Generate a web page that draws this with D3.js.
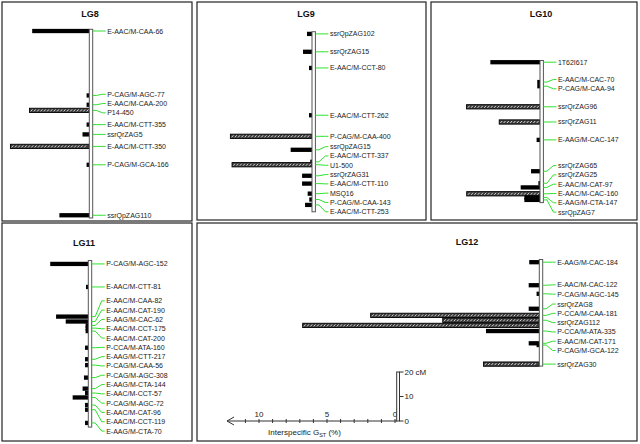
<!DOCTYPE html>
<html>
<head>
<meta charset="utf-8">
<script src="https://cdn.jsdelivr.net/npm/d3@7"></script>
<style>
body { margin: 0; background: #fff; }
svg { display: block; font-family: "Liberation Sans", Arial, sans-serif; }
</style>
</head>
<body>
<div id="chart"></div>
<script>
// linkage groups and their map length (cM)
var groupNames = ["LG8", "LG9", "LG10", "LG11", "LG12"];
var groupLength = [77, 73.5, 58, 68, 43.5];

// LG8 : marker, position (cM), interspecific Gst (%), hatched bar
var lg8Markers = ["E-AAC/M-CAA-66", "P-CAG/M-AGC-77", "E-AAC/M-CAA-200", "P14-450", "E-AAC/M-CTT-355",
    "ssrQrZAG5", "E-AAC/M-CTT-350", "P-CAG/M-GCA-166", "ssrQpZAG110"];
var lg8Pos = [0.7, 27.0, 30.8, 33.1, 38.9, 42.9, 47.8, 55.3, 75.9];
var lg8Gst = [4.2, 0.2, 0.2, 4.4, 0.2, 0.5, 5.8, 0.2, 2.2];
var lg8Hatched = [0, 0, 0, 1, 0, 0, 1, 0, 0];

// LG9
var lg9Markers = ["ssrQpZAG102", "ssrQrZAG15", "E-AAC/M-CCT-80", "E-AAC/M-CTT-262", "P-CAG/M-CAA-400",
    "ssrQpZAG15", "E-AAC/M-CTT-337", "U1-500", "ssrQrZAG31", "E-AAC/M-CTT-110", "MSQ16",
    "P-CAG/M-CAA-143", "E-AAC/M-CTT-253"];
var lg9Pos = [0.9, 8.2, 14.8, 34.1, 42.7, 48.2, 53.1, 54.3, 58.8, 62.0, 66.1, 68.5, 70.7];
var lg9Gst = [0.37, 0.66, 0.22, 0.22, 6.0, 1.57, 0.13, 5.88, 0.73, 0.73, 0.32, 0.2, 0.51];
var lg9Hatched = [0, 0, 0, 0, 1, 0, 0, 1, 0, 0, 0, 0, 0];

// LG10
var lg10Markers = ["1T62I617", "E-AAC/M-CAC-70", "P-CAG/M-CAA-94", "ssrQrZAG96", "ssrQrZAG11",
    "E-AAG/M-CAC-147", "ssrQrZAG65", "ssrQrZAG25", "E-AAC/M-CAT-97", "E-AAC/M-CAC-160",
    "E-AAG/M-CTA-147", "ssrQpZAG7"];
var lg10Pos = [0.7, 8.8, 10.5, 18.9, 25.1, 32.4, 45.2, 50.1, 51.8, 54.4, 55.9, 56.9];
var lg10Gst = [3.65, 0.2, 0.2, 5.4, 3.0, 0.25, 0.66, 0.12, 1.42, 5.39, 1.15, 1.15];
var lg10Hatched = [0, 0, 0, 1, 1, 0, 0, 0, 0, 1, 0, 0];

// LG11
var lg11Markers = ["P-CAG/M-AGC-152", "E-AAC/M-CTT-81", "E-AAC/M-CAA-82", "E-AAC/M-CAT-190",
    "E-AAG/M-CAC-62", "E-AAC/M-CCT-175", "E-AAC/M-CAT-200", "P-CCA/M-ATA-160", "E-AAG/M-CTT-217",
    "P-CAG/M-CAA-56", "P-CAG/M-AGC-308", "E-AAG/M-CTA-144", "E-AAC/M-CCT-57", "P-CAG/M-AGC-72",
    "E-AAC/M-CAT-96", "E-AAC/M-CCT-119", "E-AAG/M-CTA-70"];
var lg11Pos = [1.4, 10.8, 22.9, 24.9, 26.5, 27.6, 28.8, 35.6, 40.3, 42.7, 47.8, 52.3, 54.1, 55.9, 59.0, 60.9, 66.3];
var lg11Gst = [2.8, 0.17, 2.37, 1.66, 0.2, 0.2, 0.2, 0.24, 0.24, 0.24, 0.32, 0.42, 0.24, 1.15, 0.24, 0.24, 0.24];
var lg11Hatched = [0, 0, 0, 0, 0, 0, 0, 0, 0, 0, 0, 0, 0, 0, 0, 0, 0];

// LG12 ("" = bar whose label is not readable in the figure)
var lg12Markers = ["E-AAG/M-CAC-184", "E-AAC/M-CAC-122", "P-CAG/M-AGC-145", "ssrQrZAG8",
    "P-CCA/M-CAA-181", "ssrQrZAG112", "", "P-CCA/M-ATA-335", "E-AAC/M-CAT-171", "P-CAG/M-GCA-122",
    "ssrQrZAG30"];
var lg12Pos = [1.1, 10.5, 14.0, 20.1, 22.8, 24.8, 26.9, 29.2, 34.2, 34.9, 42.7];
var lg12Gst = [0.74, 0.78, 0.2, 0.78, 12.4, 7.1, 17.4, 3.92, 0.78, 0.2, 4.1];
var lg12Hatched = [0, 0, 0, 0, 1, 1, 1, 0, 0, 0, 1];

// scale legend
var gstTicks = [0, 1, 2, 3, 4, 5, 6, 7, 8, 9, 10, 11];
var gstLabels = [0, 5, 10];
var cmTicks = [0, 10, 20];

var markerSets = [
    [lg8Markers, lg8Pos, lg8Gst, lg8Hatched],
    [lg9Markers, lg9Pos, lg9Gst, lg9Hatched],
    [lg10Markers, lg10Pos, lg10Gst, lg10Hatched],
    [lg11Markers, lg11Pos, lg11Gst, lg11Hatched],
    [lg12Markers, lg12Pos, lg12Gst, lg12Hatched]
];

// panel boxes and where the chromosome sits inside them
var panels = [
    {x0: 2,   y0: 2,   x1: 192, y1: 221, tx: 90,  ty: 16.5, cx: 89.3,  top: 29.3},
    {x0: 197, y0: 2,   x1: 426, y1: 220, tx: 306, ty: 16.5, cx: 312,   top: 31.7},
    {x0: 431, y0: 2,   x1: 637, y1: 220, tx: 541, ty: 16.5, cx: 540,   top: 60.5},
    {x0: 2,   y0: 223, x1: 192, y1: 441, tx: 84,  ty: 246,  cx: 88.3,  top: 260.5},
    {x0: 197, y0: 223, x1: 637, y1: 441, tx: 467, ty: 245,  cx: 539.3, top: 259.5}
];

var W = 640, H = 444,
    cmPx = 2.45,      // pixels per cM
    gstPx = 13.6,     // pixels per 1 % Gst
    chrW = 3.4,
    barH = 4.3,
    labelGap = 9.3,
    green = "#2ee02e";

var svg = d3.select("#chart").append("svg")
    .attr("width", W)
    .attr("height", H);

var barLen = d3.scaleLinear().domain([0, 1]).range([0, gstPx]);

// push overlapping labels apart, keeping each block centred on its loci
function spreadLabels(ys, gap) {
    var blocks = [];
    ys.forEach(function(y, i) {
        blocks.push({n: 1, sum: y});
        while (blocks.length > 1) {
            var b = blocks[blocks.length - 1], a = blocks[blocks.length - 2];
            var aTop = a.sum / a.n - (a.n - 1) * gap / 2,
                bTop = b.sum / b.n - (b.n - 1) * gap / 2;
            if (aTop + a.n * gap > bTop) {
                a.n += b.n; a.sum += b.sum; blocks.pop();
            } else break;
        }
    });
    var out = [];
    blocks.forEach(function(b) {
        var top = b.sum / b.n - (b.n - 1) * gap / 2;
        for (var k = 0; k < b.n; k++) out.push(top + k * gap);
    });
    return out;
}

panels.forEach(function(p, gi) {
    var set = markerSets[gi];
    var y = d3.scaleLinear().domain([0, groupLength[gi]])
        .range([p.top, p.top + groupLength[gi] * cmPx]);

    var data = set[0].map(function(name, i) {
        return {name: name, pos: set[1][i], gst: set[2][i], hatched: set[3][i]};
    });
    var named = data.filter(function(d) { return d.name; });
    var ly = spreadLabels(named.map(function(d) { return y(d.pos); }), labelGap);
    named.forEach(function(d, i) { d.ly = ly[i]; });

    var g = svg.append("g");

    g.append("rect")
        .attr("x", p.x0).attr("y", p.y0)
        .attr("width", p.x1 - p.x0).attr("height", p.y1 - p.y0)
        .attr("fill", "none")
        .attr("stroke", "#222")
        .attr("stroke-width", 1.2);

    g.append("text")
        .attr("x", p.tx).attr("y", p.ty)
        .attr("text-anchor", "middle")
        .attr("font-size", "9px")
        .attr("font-weight", "bold")
        .attr("fill", "#111")
        .text(groupNames[gi]);

    // Gst bars
    g.selectAll(".bar")
        .data(data)
        .join("rect")
        .attr("class", "bar")
        .attr("x", function(d) { return p.cx - barLen(d.gst); })
        .attr("y", function(d) { return y(d.pos) - barH / 2; })
        .attr("width", function(d) { return barLen(d.gst); })
        .attr("height", barH)
        .attr("fill", function(d) { return d.hatched ? "#3c3c3c" : "#000"; })
        .attr("stroke", "#000")
        .attr("stroke-width", function(d) { return d.hatched ? 0.9 : 0; });

    // white dashes inside the hatched bars
    g.selectAll(".dash")
        .data(data.filter(function(d) { return d.hatched; }))
        .join("path")
        .attr("class", "dash")
        .attr("fill", "none")
        .attr("stroke", "#fff")
        .attr("stroke-width", 0.8)
        .attr("d", function(d) {
            var x0 = p.cx - barLen(d.gst) + 1.2, cy = y(d.pos), s = "";
            for (var x = x0; x < p.cx - 2.2; x += 3.3) {
                s += "M" + x + "," + (cy + 1) + "L" + (x + 1.8) + "," + (cy - 1);
            }
            return s;
        });

    // chromosome
    g.append("rect")
        .attr("x", p.cx).attr("y", y(0))
        .attr("width", chrW)
        .attr("height", y(groupLength[gi]) - y(0))
        .attr("fill", "#fff")
        .attr("stroke", "#555")
        .attr("stroke-width", 1);

    var cr = p.cx + chrW;

    g.selectAll(".link")
        .data(named)
        .join("path")
        .attr("class", "link")
        .attr("fill", "none")
        .attr("stroke", green)
        .attr("stroke-width", 1)
        .attr("d", function(d) {
            var a = y(d.pos);
            return "M" + cr + "," + a + "H" + (cr + 3.5) + "L" + (cr + 10) + "," + d.ly + "H" + (cr + 13);
        });

    g.selectAll(".lab")
        .data(named)
        .join("text")
        .attr("class", "lab")
        .attr("x", cr + 14.5)
        .attr("y", function(d) { return d.ly + 2.5; })
        .attr("font-size", "7px")
        .attr("fill", "#222")
        .text(function(d) { return d.name; });
});

// Gst axis (grows to the left)
var axisY = 421, zeroX = 394.5;
var gx = d3.scaleLinear().domain([0, 11]).range([zeroX, zeroX - 11 * gstPx]);

svg.append("line")
    .attr("x1", 227).attr("x2", 397)
    .attr("y1", axisY).attr("y2", axisY)
    .attr("stroke", "#333");
svg.append("path")
    .attr("d", "M234,417L227,421L234,425")
    .attr("fill", "none")
    .attr("stroke", "#333");

var ax = svg.append("g")
    .attr("transform", "translate(0," + axisY + ")")
    .call(d3.axisTop(gx).tickValues(gstTicks).tickSize(2).tickSizeOuter(0)
        .tickFormat(function(d) { return gstLabels.indexOf(d) >= 0 ? d : ""; }));
ax.select(".domain").remove();
ax.selectAll(".tick line").attr("y1", 2).attr("y2", -2).attr("stroke", "#333");
ax.selectAll(".tick text")
    .attr("y", -4.5)
    .attr("font-size", "8px")
    .attr("font-family", "Liberation Sans, Arial, sans-serif")
    .attr("fill", "#222");

var xl = svg.append("text")
    .attr("x", 268).attr("y", 435)
    .attr("font-size", "8px")
    .attr("fill", "#222");
xl.append("tspan").text("Interspecific G");
xl.append("tspan").attr("font-size", "5.5px").attr("dy", 1.8).text("ST");
xl.append("tspan").attr("dy", -1.8).text(" (%)");

// cM scale bar
var cy = d3.scaleLinear().domain([0, 20]).range([axisY, axisY - 20 * cmPx]);
svg.append("rect")
    .attr("x", 396.7).attr("y", cy(20))
    .attr("width", 2.8).attr("height", cy(0) - cy(20))
    .attr("fill", "#fff")
    .attr("stroke", "#333");
var cmG = svg.append("g").selectAll("g")
    .data(cmTicks)
    .join("g")
    .attr("transform", function(d) { return "translate(0," + cy(d) + ")"; });
cmG.append("line")
    .attr("x1", 399.5).attr("x2", 403.5)
    .attr("stroke", "#333");
cmG.append("text")
    .attr("x", 404.5).attr("dy", "0.35em")
    .attr("font-size", "8px")
    .attr("fill", "#222")
    .text(function(d) { return d === 20 ? d + " cM" : d; });
</script>
</body>
</html>
